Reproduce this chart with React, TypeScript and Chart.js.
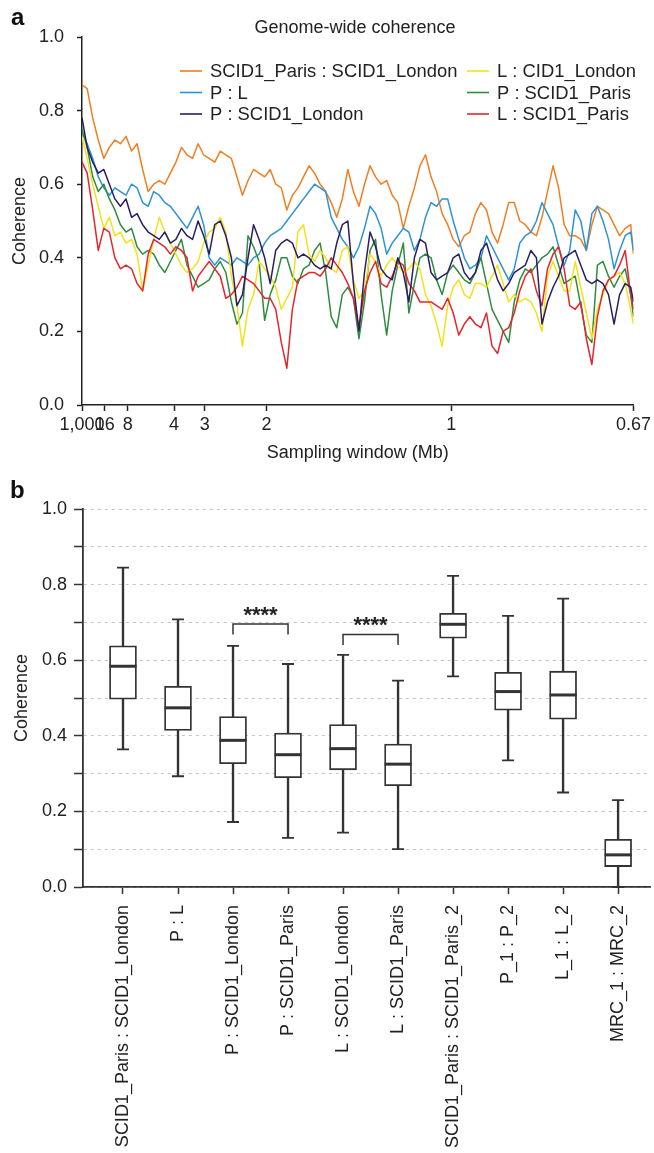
import React, { useEffect, useRef } from 'react';
import { Chart, registerables } from 'chart.js';

Chart.register(...registerables);

const FONT = '"Liberation Sans", Arial, Helvetica, sans-serif';

// ---------- Panel a: genome-wide coherence ----------
// x = inverse sampling window (1/Mb)
const invWindow = [
  0.001, 0.015, 0.03, 0.045, 0.06, 0.075, 0.09, 0.105, 0.12, 0.135,
  0.15, 0.165, 0.18, 0.195, 0.21, 0.225, 0.24, 0.255, 0.27, 0.285,
  0.3, 0.315, 0.33, 0.345, 0.36, 0.375, 0.39, 0.405, 0.42, 0.435,
  0.45, 0.465, 0.48, 0.495, 0.51, 0.525, 0.54, 0.555, 0.57, 0.585,
  0.6, 0.615, 0.63, 0.645, 0.66, 0.675, 0.69, 0.705, 0.72, 0.735,
  0.75, 0.765, 0.78, 0.795, 0.81, 0.825, 0.84, 0.855, 0.87, 0.885,
  0.9, 0.915, 0.93, 0.945, 0.96, 0.975, 0.99, 1.005, 1.02, 1.035,
  1.05, 1.065, 1.08, 1.095, 1.11, 1.125, 1.14, 1.155, 1.17, 1.185,
  1.2, 1.215, 1.23, 1.245, 1.26, 1.275, 1.29, 1.305, 1.32, 1.335,
  1.35, 1.365, 1.38, 1.395, 1.41, 1.425, 1.44, 1.455, 1.47, 1.485,
  1.4925,
];
const windowTicksMb = [1000, 16, 8, 4, 3, 2, 1, 0.67];
const windowTickLabels = ['1,000', '16', '8', '4', '3', '2', '1', '0.67'];

const parisLondon = [
  0.87, 0.86, 0.78, 0.72, 0.67, 0.70, 0.72, 0.71, 0.73, 0.69,
  0.71, 0.64, 0.58, 0.60, 0.61, 0.60, 0.63, 0.66, 0.70, 0.68,
  0.67, 0.71, 0.68, 0.67, 0.66, 0.69, 0.68, 0.67, 0.62, 0.57,
  0.61, 0.64, 0.63, 0.62, 0.64, 0.60, 0.59, 0.53, 0.57, 0.59,
  0.62, 0.65, 0.63, 0.60, 0.58, 0.55, 0.51, 0.56, 0.64, 0.58,
  0.54, 0.60, 0.65, 0.62, 0.60, 0.61, 0.57, 0.55, 0.48, 0.54,
  0.59, 0.65, 0.68, 0.62, 0.58, 0.52, 0.49, 0.45, 0.43, 0.46,
  0.47, 0.52, 0.55, 0.53, 0.47, 0.44, 0.49, 0.55, 0.55, 0.50,
  0.49, 0.47, 0.46, 0.51, 0.58, 0.65, 0.59, 0.49, 0.46, 0.46,
  0.45, 0.42, 0.49, 0.54, 0.53, 0.52, 0.49, 0.46, 0.48, 0.49,
  0.41,
];
const pL = [
  0.74, 0.71, 0.67, 0.62, 0.59, 0.57, 0.59, 0.58, 0.57, 0.60,
  0.59, 0.55, 0.54, 0.58, 0.57, 0.55, 0.54, 0.52, 0.50, 0.48,
  0.51, 0.54, 0.49, 0.40, 0.38, 0.40, 0.39, 0.38, 0.40, 0.39,
  0.38, 0.40, 0.41, 0.44, 0.46, 0.47, 0.48, 0.50, 0.52, 0.54,
  0.56, 0.58, 0.60, 0.59, 0.58, 0.51, 0.48, 0.45, 0.43, 0.40,
  0.43, 0.48, 0.54, 0.52, 0.48, 0.41, 0.44, 0.46, 0.48, 0.47,
  0.42, 0.45, 0.51, 0.55, 0.54, 0.56, 0.56, 0.50, 0.45, 0.40,
  0.37, 0.38, 0.40, 0.46, 0.43, 0.40, 0.37, 0.34, 0.37, 0.44,
  0.46, 0.47, 0.50, 0.55, 0.52, 0.49, 0.43, 0.38, 0.42, 0.53,
  0.50, 0.42, 0.52, 0.54, 0.50, 0.45, 0.37, 0.42, 0.46, 0.47,
  0.42,
];
const pLondon = [
  0.78, 0.70, 0.66, 0.63, 0.64, 0.60, 0.56, 0.54, 0.56, 0.51,
  0.52, 0.49, 0.47, 0.46, 0.45, 0.47, 0.44, 0.45, 0.48, 0.46,
  0.45, 0.50, 0.46, 0.41, 0.49, 0.50, 0.46, 0.40, 0.27, 0.30,
  0.40, 0.49, 0.45, 0.40, 0.33, 0.42, 0.44, 0.45, 0.44, 0.40,
  0.41, 0.40, 0.38, 0.37, 0.38, 0.37, 0.44, 0.49, 0.50, 0.33,
  0.20, 0.36, 0.47, 0.43, 0.37, 0.35, 0.34, 0.40, 0.36, 0.28,
  0.40, 0.45, 0.44, 0.36, 0.34, 0.35, 0.36, 0.40, 0.41, 0.36,
  0.34, 0.36, 0.42, 0.44, 0.39, 0.34, 0.31, 0.33, 0.36, 0.37,
  0.38, 0.42, 0.40, 0.22, 0.28, 0.32, 0.35, 0.40, 0.41, 0.42,
  0.38, 0.34, 0.33, 0.34, 0.33, 0.30, 0.22, 0.30, 0.33, 0.32,
  0.28,
];
const lLondon = [
  0.73, 0.67, 0.60, 0.54, 0.48, 0.51, 0.46, 0.47, 0.44, 0.45,
  0.41, 0.31, 0.38, 0.45, 0.51, 0.47, 0.44, 0.41, 0.38, 0.36,
  0.37, 0.39, 0.44, 0.47, 0.48, 0.51, 0.47, 0.35, 0.27, 0.16,
  0.26, 0.30, 0.39, 0.37, 0.35, 0.32, 0.26, 0.29, 0.32, 0.47,
  0.49, 0.41, 0.39, 0.42, 0.40, 0.37, 0.36, 0.42, 0.43, 0.34,
  0.29, 0.31, 0.41, 0.39, 0.35, 0.38, 0.40, 0.38, 0.36, 0.37,
  0.39, 0.37, 0.30, 0.27, 0.22, 0.16, 0.27, 0.32, 0.34, 0.30,
  0.29, 0.33, 0.33, 0.32, 0.35, 0.38, 0.33, 0.28, 0.30, 0.28,
  0.29, 0.28, 0.25, 0.20, 0.35, 0.39, 0.35, 0.31, 0.31, 0.39,
  0.32, 0.25, 0.18, 0.26, 0.30, 0.34, 0.35, 0.36, 0.33, 0.26,
  0.22,
];
const pParis = [
  0.75, 0.70, 0.62, 0.58, 0.60, 0.56, 0.53, 0.49, 0.47, 0.48,
  0.43, 0.41, 0.42, 0.41, 0.38, 0.36, 0.39, 0.42, 0.45, 0.38,
  0.35, 0.32, 0.33, 0.34, 0.37, 0.39, 0.36, 0.28, 0.22, 0.25,
  0.46, 0.43, 0.39, 0.23, 0.30, 0.34, 0.40, 0.40, 0.35, 0.33,
  0.37, 0.38, 0.42, 0.44, 0.36, 0.24, 0.21, 0.30, 0.32, 0.29,
  0.18, 0.28, 0.42, 0.45, 0.30, 0.19, 0.31, 0.38, 0.44, 0.25,
  0.33, 0.40, 0.41, 0.40, 0.34, 0.30, 0.36, 0.38, 0.36, 0.34,
  0.33, 0.36, 0.40, 0.33, 0.26, 0.23, 0.20, 0.17, 0.28, 0.34,
  0.37, 0.36, 0.38, 0.40, 0.41, 0.43, 0.38, 0.33, 0.34, 0.35,
  0.27, 0.19, 0.17, 0.38, 0.39, 0.35, 0.32, 0.35, 0.37, 0.30,
  0.24,
];
const lParis = [
  0.66, 0.63, 0.53, 0.42, 0.48, 0.47, 0.40, 0.37, 0.38, 0.37,
  0.33, 0.31, 0.41, 0.45, 0.44, 0.43, 0.41, 0.43, 0.42, 0.40,
  0.31, 0.35, 0.37, 0.39, 0.37, 0.35, 0.29, 0.30, 0.32, 0.35,
  0.34, 0.33, 0.31, 0.29, 0.29, 0.26, 0.17, 0.10, 0.26, 0.34,
  0.35, 0.36, 0.36, 0.35, 0.37, 0.40, 0.38, 0.36, 0.33, 0.29,
  0.21, 0.31, 0.36, 0.39, 0.33, 0.32, 0.35, 0.39, 0.38, 0.33,
  0.31, 0.28, 0.28, 0.28, 0.27, 0.26, 0.29, 0.25, 0.19, 0.22,
  0.24, 0.22, 0.21, 0.25, 0.16, 0.14, 0.20, 0.21, 0.25, 0.31,
  0.35, 0.37, 0.31, 0.27, 0.37, 0.41, 0.43, 0.37, 0.27, 0.26,
  0.28, 0.18, 0.11, 0.24, 0.31, 0.34, 0.35, 0.38, 0.42, 0.30,
  0.26,
];

const seriesNames = [
  'SCID1_Paris : SCID1_London',
  'P : L',
  'P : SCID1_London',
  'L : CID1_London',
  'P : SCID1_Paris',
  'L : SCID1_Paris',
];
const seriesValues = [parisLondon, pL, pLondon, lLondon, pParis, lParis];
const seriesColors = ['#F07F23', '#2D93D2', '#2A1E63', '#F2E21C', '#2F8C3F', '#E3262B'];
const seriesDrawOrder = [5, 4, 0, 2, 3, 1];
const panelATitle = 'Genome-wide coherence';

// ---------- Panel b: box plots ----------
const boxCategories = [
  'SCID1_Paris : SCID1_London',
  'P : L',
  'P : SCID1_London',
  'P : SCID1_Paris',
  'L : SCID1_London',
  'L : SCID1_Paris',
  'SCID1_Paris : SCID1_Paris_2',
  'P_1 : P_2',
  'L_1 : L_2',
  'MRC_1 : MRC_2',
];
const boxMin = [0.364, 0.293, 0.172, 0.130, 0.144, 0.100, 0.557, 0.335, 0.250, 0.0];
const boxQ1 = [0.497, 0.414, 0.326, 0.289, 0.310, 0.268, 0.658, 0.468, 0.444, 0.054];
const boxMedian = [0.584, 0.474, 0.388, 0.350, 0.366, 0.325, 0.695, 0.517, 0.508, 0.085];
const boxQ3 = [0.638, 0.531, 0.451, 0.407, 0.430, 0.378, 0.724, 0.568, 0.571, 0.126];
const boxMax = [0.845, 0.708, 0.638, 0.590, 0.614, 0.546, 0.823, 0.717, 0.763, 0.230];

const sigFrom = [2, 4];
const sigTo = [3, 5];
const sigTop = [0.696, 0.668];
const sigLeg = [0.668, 0.640];
const sigLabel = ['****', '****'];

const INK = '#222';

const topDecor = {
  id: 'topDecor',
  afterDraw(chart: any) {
    const ctx = chart.ctx;
    ctx.save();
    ctx.fillStyle = '#111';
    ctx.font = `bold 24px ${FONT}`;
    ctx.textAlign = 'left';
    ctx.textBaseline = 'alphabetic';
    ctx.fillText('a', 11, 25);

    ctx.font = `18px ${FONT}`;
    ctx.fillStyle = INK;
    ctx.textAlign = 'center';
    ctx.textBaseline = 'middle';
    ctx.fillText(panelATitle, 355, 28);

    const cols = [
      { x: 180, idx: [0, 1, 2] },
      { x: 467, idx: [3, 4, 5] },
    ];
    const rows = [71, 92.5, 114];
    ctx.textAlign = 'left';
    ctx.font = `18.4px ${FONT}`;
    cols.forEach((c) =>
      c.idx.forEach((d, r) => {
        const ds = chart.data.datasets[d];
        ctx.strokeStyle = ds.borderColor;
        ctx.lineWidth = 1.6;
        ctx.beginPath();
        ctx.moveTo(c.x, rows[r]);
        ctx.lineTo(c.x + 22, rows[r]);
        ctx.stroke();
        ctx.fillStyle = INK;
        ctx.fillText(ds.label, c.x + 30, rows[r] + 1);
      })
    );
    ctx.restore();
  },
};

const boxDecor = {
  id: 'boxDecor',
  afterDatasetsDraw(chart: any) {
    const ctx = chart.ctx;
    const xs = chart.scales.x;
    const ys = chart.scales.y;
    ctx.save();
    ctx.strokeStyle = '#333';
    boxCategories.forEach((_, i) => {
      const px = xs.getPixelForValue(i);
      ctx.lineWidth = 1.8;
      ctx.beginPath();
      ctx.moveTo(px - 6, ys.getPixelForValue(boxMax[i]));
      ctx.lineTo(px + 6, ys.getPixelForValue(boxMax[i]));
      ctx.moveTo(px - 6, ys.getPixelForValue(boxMin[i]));
      ctx.lineTo(px + 6, ys.getPixelForValue(boxMin[i]));
      ctx.stroke();
      ctx.lineWidth = 3;
      ctx.beginPath();
      ctx.moveTo(px - 13.5, ys.getPixelForValue(boxMedian[i]));
      ctx.lineTo(px + 13.5, ys.getPixelForValue(boxMedian[i]));
      ctx.stroke();
    });
    // significance brackets
    ctx.lineWidth = 1.5;
    ctx.fillStyle = INK;
    ctx.font = `bold 22px ${FONT}`;
    ctx.textAlign = 'center';
    ctx.textBaseline = 'alphabetic';
    sigFrom.forEach((f, k) => {
      const x1 = xs.getPixelForValue(f);
      const x2 = xs.getPixelForValue(sigTo[k]);
      const yt = ys.getPixelForValue(sigTop[k]);
      const yl = ys.getPixelForValue(sigLeg[k]);
      ctx.beginPath();
      ctx.moveTo(x1, yl);
      ctx.lineTo(x1, yt);
      ctx.lineTo(x2, yt);
      ctx.lineTo(x2, yl);
      ctx.stroke();
      ctx.fillText(sigLabel[k], (x1 + x2) / 2, yt - 2);
    });
    ctx.fillStyle = '#111';
    ctx.font = `bold 24px ${FONT}`;
    ctx.textAlign = 'left';
    ctx.fillText('b', 10, 18);
    ctx.restore();
  },
};

export default function App() {
  const topRef = useRef<HTMLCanvasElement>(null);
  const botRef = useRef<HTMLCanvasElement>(null);

  useEffect(() => {
    Chart.defaults.font.family = FONT;
    Chart.defaults.color = INK;

    const top = new Chart(topRef.current as HTMLCanvasElement, {
      type: 'line',
      data: {
        datasets: seriesNames.map((name, k) => ({
          label: name,
          data: invWindow.map((x, i) => ({ x, y: seriesValues[k][i] })),
          borderColor: seriesColors[k],
          backgroundColor: seriesColors[k],
          borderWidth: 1.5,
          borderJoinStyle: 'round',
          pointRadius: 0,
          tension: 0,
          fill: false,
          order: seriesDrawOrder[k],
        })),
      },
      options: {
        animation: false,
        responsive: false,
        layout: { padding: { left: 0, right: 20, top: 37, bottom: 0 } },
        plugins: { legend: { display: false }, tooltip: { enabled: false } },
        scales: {
          x: {
            type: 'linear',
            min: 1 / windowTicksMb[0],
            max: 1 / windowTicksMb[windowTicksMb.length - 1],
            afterBuildTicks: (s: any) => {
              s.ticks = windowTicksMb.map((w) => ({ value: 1 / w }));
            },
            ticks: {
              autoSkip: false,
              maxRotation: 0,
              minRotation: 0,
              font: { size: 18 },
              color: INK,
              padding: 3,
              callback: (_v: any, i: number) => windowTickLabels[i],
            },
            grid: { drawOnChartArea: false, tickLength: 6, tickColor: INK, tickWidth: 1.5 },
            border: { color: INK, width: 1.5 },
            title: {
              display: true,
              text: 'Sampling window (Mb)',
              font: { size: 18 },
              color: INK,
              padding: { top: 0, bottom: 16 },
            },
            afterFit: (s: any) => {
              s.height = 75;
            },
          },
          y: {
            min: 0,
            max: 1,
            ticks: {
              stepSize: 0.2,
              font: { size: 18 },
              color: INK,
              padding: 13,
              callback: (v: any) => Number(v).toFixed(1),
            },
            grid: { drawOnChartArea: false, tickLength: 5, tickColor: INK, tickWidth: 1.5 },
            border: { color: INK, width: 1.5 },
            title: {
              display: true,
              text: 'Coherence',
              font: { size: 18 },
              color: INK,
              padding: { top: 9, bottom: 0 },
            },
            afterFit: (s: any) => {
              s.width = 82;
            },
          },
        },
      },
      plugins: [topDecor],
    } as any);

    const bottom = new Chart(botRef.current as HTMLCanvasElement, {
      type: 'bar',
      data: {
        datasets: [
          {
            label: 'whisker',
            data: boxCategories.map((_, i) => ({ x: i, y: [boxMin[i], boxMax[i]] })),
            backgroundColor: '#333',
            borderWidth: 0,
            barThickness: 1.7,
            grouped: false,
            order: 2,
          },
          {
            label: 'box',
            data: boxCategories.map((_, i) => ({ x: i, y: [boxQ1[i], boxQ3[i]] })),
            backgroundColor: '#ffffff',
            borderColor: '#333',
            borderWidth: 1.8,
            borderSkipped: false,
            barThickness: 27,
            grouped: false,
            order: 1,
          },
        ],
      },
      options: {
        animation: false,
        responsive: false,
        layout: { padding: { left: 0, right: 4, top: 29, bottom: 0 } },
        plugins: { legend: { display: false }, tooltip: { enabled: false } },
        scales: {
          x: {
            type: 'linear',
            offset: false,
            min: -0.727,
            max: 9.58,
            afterBuildTicks: (s: any) => {
              s.ticks = boxCategories.map((_, i) => ({ value: i }));
            },
            ticks: {
              autoSkip: false,
              minRotation: 90,
              maxRotation: 90,
              font: { size: 18 },
              color: INK,
              padding: 11,
              callback: (_v: any, i: number) => boxCategories[i],
            },
            grid: { drawOnChartArea: false, offset: false, tickLength: 7, tickColor: '#333', tickWidth: 1.5 },
            border: { color: '#333', width: 1.8 },
            afterFit: (s: any) => {
              s.height = 266;
            },
          },
          y: {
            min: 0,
            max: 1,
            ticks: {
              stepSize: 0.1,
              font: { size: 18 },
              color: INK,
              padding: 7,
              callback: (v: any) => {
                const t = Math.round(Number(v) * 10);
                return t % 2 === 0 ? (t / 10).toFixed(1) : '';
              },
            },
            grid: {
              drawOnChartArea: true,
              color: '#c4c4c4',
              lineWidth: 1,
              tickLength: 9,
              tickColor: '#333',
              tickWidth: 1.5,
            },
            border: { color: '#333', width: 1.8, dash: [3, 4] },
            title: {
              display: true,
              text: 'Coherence',
              font: { size: 18 },
              color: INK,
              padding: { top: 11, bottom: 0 },
            },
            afterFit: (s: any) => {
              s.width = 83;
            },
          },
        },
      },
      plugins: [boxDecor],
    } as any);

    return () => {
      top.destroy();
      bottom.destroy();
    };
  }, []);

  return (
    <div style={{ position: 'absolute', left: 0, top: 0, width: 654, height: 1153, background: '#fff' }}>
      <canvas ref={topRef} width={654} height={480} style={{ display: 'block' }} />
      <canvas ref={botRef} width={654} height={673} style={{ display: 'block' }} />
    </div>
  );
}
